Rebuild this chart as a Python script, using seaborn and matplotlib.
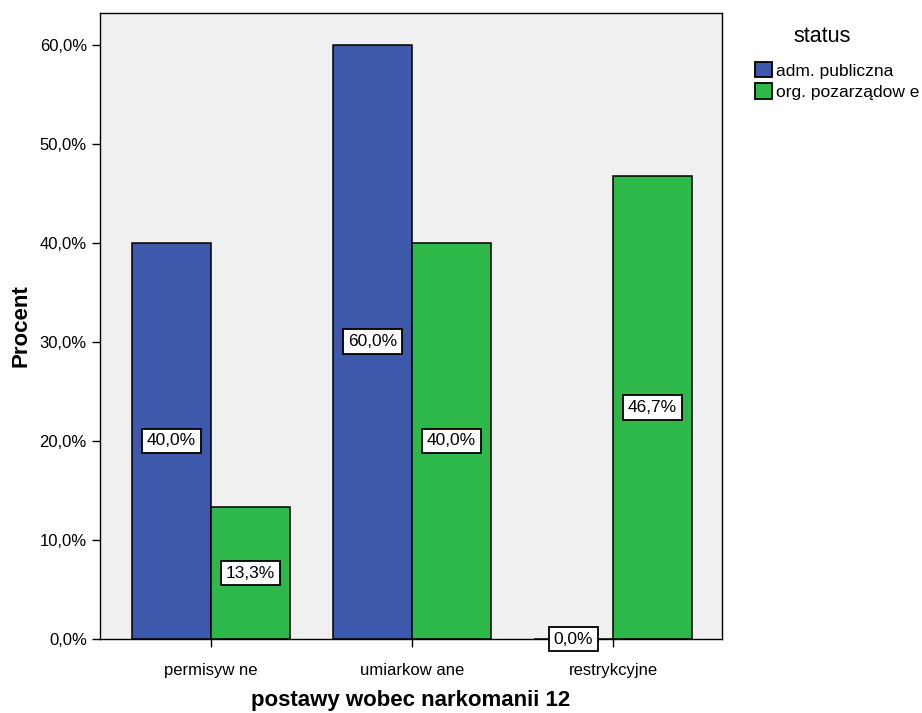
import matplotlib
matplotlib.use('Agg')
import matplotlib.pyplot as plt
import matplotlib.ticker as mticker
import pandas as pd
import seaborn as sns

# data
categories = ['permisyw ne', 'umiarkow ane', 'restrykcyjne']
status = ['adm. publiczna', 'org. pozarządow e']
adm_values = [40.0, 60.0, 0.0]
org_values = [13.3, 40.0, 46.7]

df = pd.DataFrame({
    'kategoria': categories * 2,
    'status': [status[0]] * 3 + [status[1]] * 3,
    'procent': adm_values + org_values,
})

sns.set_style('white')
plt.rcParams['font.family'] = ['Liberation Sans', 'DejaVu Sans']
plt.rcParams['text.color'] = 'black'
plt.rcParams['axes.labelcolor'] = 'black'
plt.rcParams['xtick.color'] = 'black'
plt.rcParams['ytick.color'] = 'black'

fig = plt.figure(figsize=(9.22, 7.13), dpi=100)
ax = fig.add_axes([100 / 922, 1 - 639 / 713, 622 / 922, 626 / 713])

palette = {status[0]: '#3e58ac', status[1]: '#2eb84a'}
sns.barplot(data=df, x='kategoria', y='procent', hue='status', order=categories,
            hue_order=status, palette=palette, width=0.786, saturation=1,
            edgecolor='black', linewidth=1.1, ax=ax)

ax.set_facecolor('#f0f0f0')
ax.set_xlim(-0.552, 2.542)
ax.set_ylim(0, 63.2)
ax.set_yticks([0, 10, 20, 30, 40, 50, 60])
ax.yaxis.set_major_formatter(mticker.FuncFormatter(lambda v, p: f'{v:.1f}%'.replace('.', ',')))
ax.tick_params(axis='both', which='major', length=6, width=1, color='black',
               direction='out', labelsize=12, bottom=True, left=True)
ax.tick_params(axis='x', pad=11)
for s in ax.spines.values():
    s.set_color('black')
    s.set_linewidth(1)

ax.set_ylabel('Procent', fontsize=16, fontweight='bold', labelpad=6)
ax.set_xlabel('postawy wobec narkomanii 12', fontsize=16, fontweight='bold', labelpad=9)

for cont, vals in zip(ax.containers, [adm_values, org_values]):
    labels = [f'{v:.1f}%'.replace('.', ',') for v in vals]
    ax.bar_label(cont, labels=labels, label_type='center', fontsize=12.5,
                 bbox=dict(boxstyle='square,pad=0.28', fc='white', ec='black', lw=1.3))

handles, labs = ax.get_legend_handles_labels()
ax.get_legend().remove()
fig.text(822 / 922, 1 - 36 / 713, 'status', ha='center', va='center', fontsize=15.5)
leg = fig.legend(handles, labs, loc='upper left',
                 bbox_to_anchor=(748 / 922, 1 - 55 / 713), frameon=False,
                 fontsize=12.5, handlelength=1.0, handleheight=1.0,
                 handletextpad=0.2, labelspacing=0.25, borderaxespad=0)
for h in leg.legend_handles:
    h.set_edgecolor('black')
    h.set_linewidth(1.3)

fig.savefig('out.png', dpi=100)
